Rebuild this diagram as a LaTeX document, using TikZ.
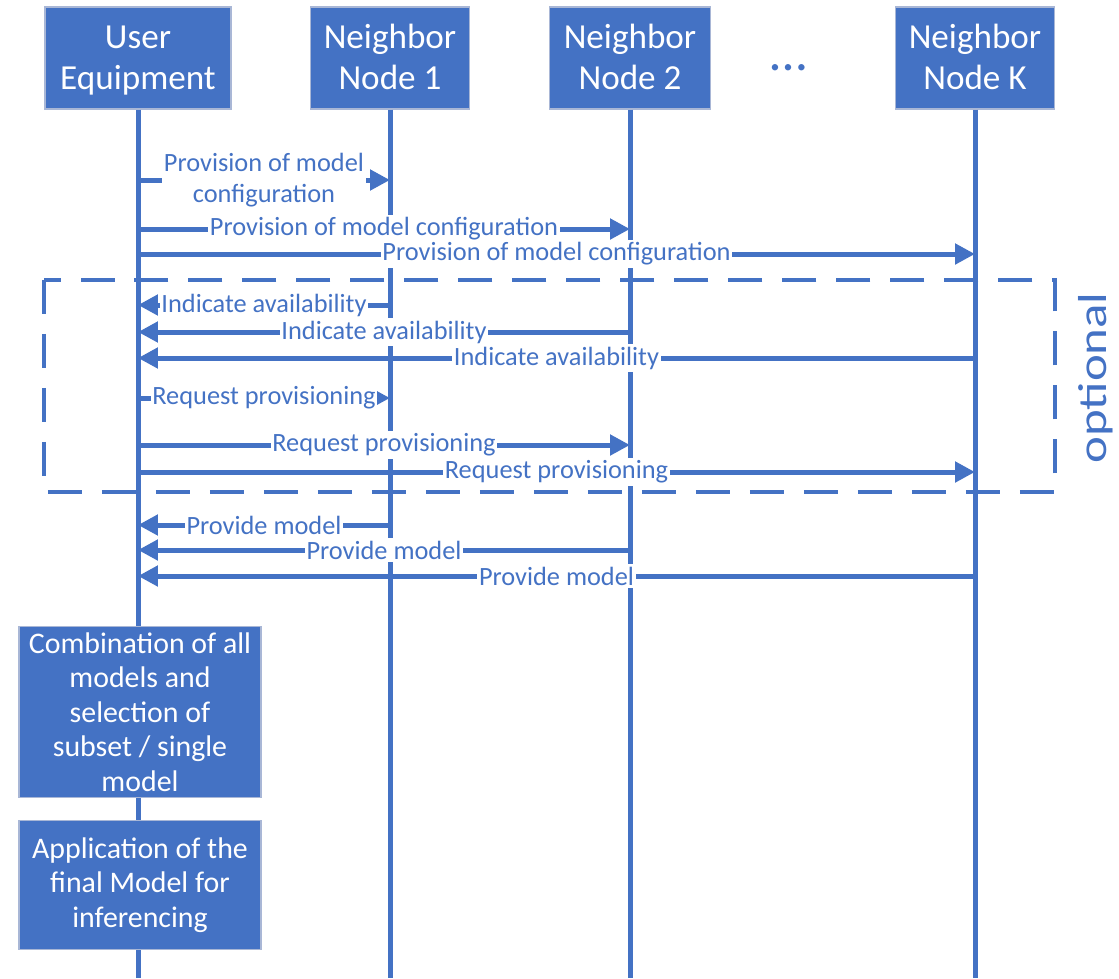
\documentclass[tikz,border=0pt]{standalone}
\usepackage{fontspec}
\setmainfont{Carlito}
\usetikzlibrary{arrows.meta}
\definecolor{ublue}{HTML}{4472C4}
\definecolor{uedge}{HTML}{A9B7D6}
\newcommand{\headstrut}{\rule{0pt}{19.5pt}}
\tikzset{
  headbox/.style={draw=uedge, line width=0.6pt, fill=ublue, text=white, minimum height=2.04cm, align=center, font=\fontsize{20}{23.6}\selectfont},
  taskbox/.style={draw=uedge, line width=0.6pt, fill=ublue, text=white, minimum width=4.84cm, align=center, font=\fontsize{17}{19.7}\selectfont},
  lifeline/.style={draw=ublue, line width=0.1cm},
  msgarrow/.style={draw=ublue, line width=0.1cm, -{Triangle[length=0.4cm,width=0.4cm]}},
  msglabel/.style={fill=white, text=ublue, inner xsep=1pt, inner ysep=1.5pt, align=center, font=\fontsize{15}{17.6}\selectfont},
  optframe/.style={draw=ublue, line width=0.08cm, dash pattern=on 0.68cm off 0.4cm}
}
\begin{document}
\begin{tikzpicture}[x=0.02cm, y=-0.02cm]
\useasboundingbox (0,0) rectangle (1119,978);
% participants
\node[headbox, minimum width=3.72cm] (ue) at (138,58) {\headstrut User\\\strut Equipment};
\node[headbox, minimum width=3.18cm] (nb1) at (390,58) {\headstrut Neighbor\\\strut Node 1};
\node[headbox, minimum width=3.22cm] (nb2) at (630,58) {\headstrut Neighbor\\\strut Node 2};
\node[headbox, minimum width=3.18cm] (nbk) at (975,58) {\headstrut Neighbor\\\strut Node K};
\node[text=ublue, anchor=base, font=\fontsize{30}{34}\selectfont] (dots) at (789,70) {…};

% optional part
\draw[optframe] (44,280) rectangle (1055,492);
\node[text=ublue, rotate=90, font=\fontsize{23}{27}\selectfont] (optlbl) at (1096,378) {\scalebox{1.26}[1]{optional}};

% lifelines
\coordinate (bottom) at (0,978);
\draw[lifeline] (ue) -- (ue |- bottom);
\draw[lifeline] (nb1) -- (nb1 |- bottom);
\draw[lifeline] (nb2) -- (nb2 |- bottom);
\draw[lifeline] (nbk) -- (nbk |- bottom);

% messages
\draw[msgarrow] (ue |- 0,180) -- node[msglabel] {Provision of model\\configuration} (nb1 |- 0,180);
\draw[msgarrow] (ue |- 0,229) -- node[msglabel] {Provision of model configuration} (nb2 |- 0,229);
\draw[msgarrow] (ue |- 0,254) -- node[msglabel] {Provision of model configuration} (nbk |- 0,254);

\draw[msgarrow] (nb1 |- 0,305) -- node[msglabel] {Indicate availability} (ue |- 0,305);
\draw[msgarrow] (nb2 |- 0,332) -- node[msglabel] {Indicate availability} (ue |- 0,332);
\draw[msgarrow] (nbk |- 0,358) -- node[msglabel] {Indicate availability} (ue |- 0,358);

\draw[msgarrow] (ue |- 0,398) -- node[msglabel] {Request provisioning} (nb1 |- 0,398);
\draw[msgarrow] (ue |- 0,445) -- node[msglabel] {Request provisioning} (nb2 |- 0,445);
\draw[msgarrow] (ue |- 0,472) -- node[msglabel] {Request provisioning} (nbk |- 0,472);

\draw[msgarrow] (nb1 |- 0,525) -- node[msglabel] {Provide model} (ue |- 0,525);
\draw[msgarrow] (nb2 |- 0,550) -- node[msglabel] {Provide model} (ue |- 0,550);
\draw[msgarrow] (nbk |- 0,576) -- node[msglabel] {Provide model} (ue |- 0,576);

% local steps at the UE
\node[taskbox, minimum height=3.36cm] (combine) at (140,712) {Combination of all\\models and\\selection of\\subset / single\\model};
\node[taskbox, minimum height=2.58cm] (apply) at (140,885) {Application of the\\final Model for\\inferencing};
\end{tikzpicture}
\end{document}
